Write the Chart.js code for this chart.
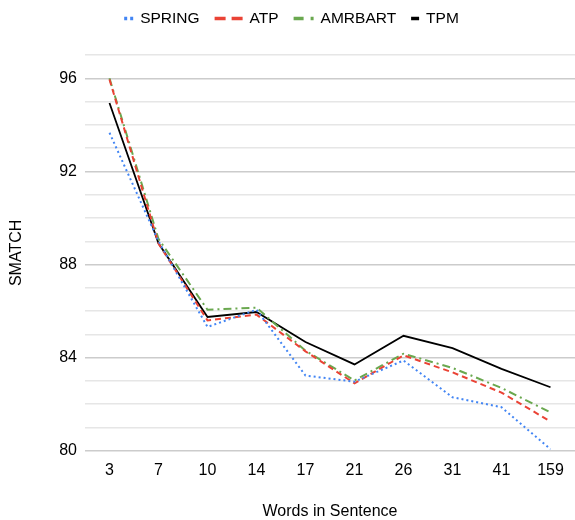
<!DOCTYPE html>
<html>
<head>
<meta charset="utf-8">
<script src="https://cdn.jsdelivr.net/npm/chart.js@4/dist/chart.umd.min.js"></script>
<style>
    html, body { margin: 0; padding: 0; background: #fff; }
    #wrap { width: 575px; height: 520px; }
</style>
</head>
<body>
<div id="wrap"><canvas id="smatchChart"></canvas></div>
<script>
    // Data
    const wordBuckets = ['3', '7', '10', '14', '17', '21', '26', '31', '41', '159'];
    const springScores  = [93.66, 89.0, 85.32, 86.06, 83.23, 82.97, 83.88, 82.30, 81.87, 80.07];
    const atpScores     = [95.95, 88.9, 85.60, 85.85, 84.27, 82.90, 84.10, 83.37, 82.50, 81.26];
    const amrbartScores = [96.00, 89.1, 86.06, 86.15, 84.30, 83.02, 84.17, 83.56, 82.70, 81.65];
    const tpmScores     = [94.94, 88.91, 85.75, 85.96, 84.67, 83.71, 84.94, 84.41, 83.52, 82.73];

    const fontFamily = "'Liberation Sans', Arial, sans-serif";

    // legend swatches: each series has its own sample length and dash
    const legendSwatch = [
        { width: 9, dash: [3, 3] },
        { width: 28, dash: [11, 6] },
        { width: 20, dash: [10, 7, 3, 30] },
        { width: 8, dash: [] }
    ];

    function lineSet(label, data, color, dash, width) {
        return {
            label: label,
            data: data,
            borderColor: color,
            backgroundColor: color,
            borderDash: dash,
            borderWidth: width,
            pointRadius: 0,
            tension: 0,
            fill: false
        };
    }

    // Sheets-style legend row above the plot
    const sheetLegend = {
        id: 'sheetLegend',
        afterDraw(chart) {
            const c = chart.ctx;
            const swatchGap = 7, itemGap = 15, y = 18.5;
            c.save();
            c.font = '15.5px ' + fontFamily;
            const items = chart.data.datasets.map((ds, i) => ({
                ds: ds, sw: legendSwatch[i], tw: c.measureText(ds.label).width
            }));
            const total = items.reduce((s, it) => s + it.sw.width + swatchGap + it.tw, 0) + itemGap * (items.length - 1);
            let x = (chart.width - total) / 2 + 4;
            items.forEach(it => {
                c.strokeStyle = it.ds.borderColor;
                c.lineWidth = 3.5;
                c.lineCap = 'butt';
                c.setLineDash(it.sw.dash);
                c.beginPath();
                c.moveTo(x, y);
                c.lineTo(x + it.sw.width, y);
                c.stroke();
                x += it.sw.width + swatchGap;
                c.setLineDash([]);
                c.fillStyle = '#000';
                c.textBaseline = 'middle';
                c.fillText(it.ds.label, x, y + 0.5);
                x += it.tw + itemGap;
            });
            c.restore();
        }
    };

    const ctx = document.getElementById('smatchChart').getContext('2d');
    new Chart(ctx, {
        type: 'line',
        data: {
            labels: wordBuckets,
            datasets: [
                lineSet('SPRING', springScores, '#4285f4', [2, 3], 2),
                lineSet('ATP', atpScores, '#ea4335', [6, 4], 2),
                lineSet('AMRBART', amrbartScores, '#6aa84f', [8, 4, 2, 4], 2),
                lineSet('TPM', tpmScores, '#000000', [], 1.8)
            ]
        },
        plugins: [sheetLegend],
        options: {
            responsive: true,
            maintainAspectRatio: false,
            animation: false,
            layout: { padding: { top: 55, right: 0, bottom: 0, left: 6 } },
            plugins: {
                legend: { display: false },
                tooltip: { enabled: false }
            },
            scales: {
                x: {
                    offset: true,
                    grid: { display: false, drawTicks: false },
                    border: { display: false },
                    ticks: { color: '#000', padding: 10, font: { family: fontFamily, size: 16 } },
                    title: {
                        display: true,
                        text: 'Words in Sentence',
                        color: '#000',
                        padding: { top: 14, bottom: 0 },
                        font: { family: fontFamily, size: 16, lineHeight: 1 }
                    }
                },
                y: {
                    min: 80,
                    max: 97,
                    grid: {
                        drawTicks: false,
                        lineWidth: 1.5,
                        color: c => (c.tick && c.tick.value % 4 === 0) ? '#cccccc' : '#e6e6e6'
                    },
                    border: { display: false },
                    ticks: {
                        stepSize: 1,
                        padding: 8,
                        color: '#000',
                        font: { family: fontFamily, size: 16 },
                        callback: v => (v % 4 === 0 ? v : '')
                    },
                    title: {
                        display: true,
                        text: 'SMATCH',
                        color: '#000',
                        padding: { top: 1, bottom: 25 },
                        font: { family: fontFamily, size: 16 }
                    }
                }
            }
        }
    });
</script>
</body>
</html>
